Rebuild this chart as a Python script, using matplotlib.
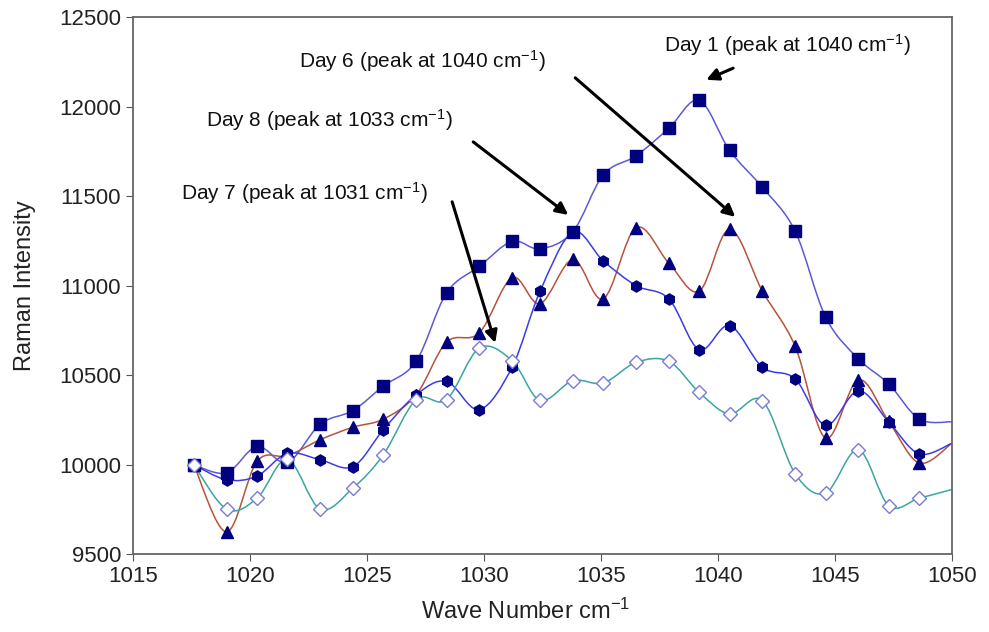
import numpy as np
import matplotlib
matplotlib.use('Agg')
import matplotlib.pyplot as plt
from matplotlib.path import Path
from matplotlib.patches import PathPatch

plt.rcParams['font.family'] = ['Liberation Sans', 'DejaVu Sans']
plt.rcParams['mathtext.default'] = 'regular'

wave = [1017.6, 1019.0, 1020.3, 1021.6, 1023.0, 1024.4, 1025.7, 1027.1, 1028.4,
        1029.8, 1031.2, 1032.4, 1033.8, 1035.1, 1036.5, 1037.9, 1039.2, 1040.5,
        1041.9, 1043.3, 1044.6, 1046.0, 1047.3, 1048.6, 1050.0]

day1 = [10000, 9955, 10103, 10013, 10227, 10303, 10440, 10578, 10960, 11108,
        11248, 11206, 11303, 11620, 11726, 11880, 12036, 11756, 11550, 11305,
        10826, 10592, 10452, 10256, 10240]
day6 = [10000, 9625, 10019, 10050, 10140, 10210, 10255, 10390, 10685, 10737,
        11045, 10900, 11147, 10927, 11325, 11127, 10970, 11316, 10970, 10662,
        10149, 10475, 10242, 10010, 10120]
day8 = [10000, 9916, 9937, 10064, 10028, 9990, 10196, 10391, 10466, 10308,
        10545, 10970, 11300, 11139, 11001, 10927, 10643, 10778, 10545, 10480,
        10220, 10414, 10239, 10061, 10120]
day7 = [10000, 9752, 9813, 10030, 9752, 9870, 10056, 10364, 10364, 10652,
        10582, 10360, 10470, 10457, 10572, 10578, 10404, 10284, 10358, 9950,
        9842, 10084, 9771, 9813, 9862]

notes = ['Day 1 (peak at 1040 cm$^{-1}$)', 'Day 6 (peak at 1040 cm$^{-1}$)',
         'Day 8 (peak at 1033 cm$^{-1}$)', 'Day 7 (peak at 1031 cm$^{-1}$)']
note_pos = [(1042.96, 12347), (1027.38, 12253), (1023.38, 11927), (1022.31, 11520)]
arrow_tail = [(1040.65, 12216), (1033.9, 12162), (1029.54, 11804), (1028.64, 11469)]
arrow_head = [(1039.5, 12151), (1040.74, 11385), (1033.6, 11396), (1030.48, 10681)]


def smooth_path(xs, ys):
    # excel-like smoothed line: catmull-rom turned into cubic bezier pieces
    pts = np.column_stack([xs, ys]).astype(float)
    verts = [pts[0]]
    codes = [Path.MOVETO]
    n = len(pts)
    for i in range(n - 1):
        p0 = pts[max(i - 1, 0)]
        p1 = pts[i]
        p2 = pts[i + 1]
        p3 = pts[min(i + 2, n - 1)]
        c1 = p1 + (p2 - p0) / 6.0
        c2 = p2 - (p3 - p1) / 6.0
        verts += [c1, c2, p2]
        codes += [Path.CURVE4] * 3
    return Path(verts, codes)


fig = plt.figure(figsize=(9.89, 6.32), dpi=100)
ax = fig.add_axes([0.1345, 0.123, 0.828, 0.8496])

series = [
    (day1, '#5a5ad6', dict(marker='s', ms=8.5, mfc='#000080', mec='#000080')),
    (day6, '#b5533f', dict(marker='^', ms=8, mfc='#000080', mec='#000080')),
    (day8, '#3c3ce6', dict(marker='h', ms=8, mfc='#000080', mec='#000080')),
    (day7, '#3aa6a0', dict(marker='D', ms=7, mfc='white', mec='#7a7ad8', mew=1.0)),
]
for ys, lc, mk in series:
    ax.add_patch(PathPatch(smooth_path(wave, ys), fill=False, ec=lc, lw=1.1, zorder=2))
    ax.plot(wave[:-1], ys[:-1], ls='none', zorder=3, **mk)

for txt, pos, tail, head in zip(notes, note_pos, arrow_tail, arrow_head):
    ax.text(pos[0], pos[1], txt, ha='center', va='center', fontsize=15, color='#111111')
    ax.annotate('', xy=head, xytext=tail,
                arrowprops=dict(arrowstyle='-|>', lw=2.2, color='black', mutation_scale=18,
                                shrinkA=0, shrinkB=0))

ax.set_xlim(1015, 1050)
ax.set_ylim(9500, 12500)
ax.set_xticks(range(1015, 1051, 5))
ax.set_yticks(range(9500, 12501, 500))
ax.tick_params(labelsize=16, direction='out', length=5, color='#555555', labelcolor='#222222')
for s in ax.spines.values():
    s.set_color('#666666')
    s.set_linewidth(1.3)

ax.set_ylabel('Raman Intensity', fontsize=17, color='#222222')
ax.set_xlabel('Wave Number cm$^{-1}$', fontsize=17, color='#222222')
ax.yaxis.set_label_coords(-0.118, 0.5)
ax.xaxis.set_label_coords(0.48, -0.082)

fig.savefig('out.png', dpi=100)
